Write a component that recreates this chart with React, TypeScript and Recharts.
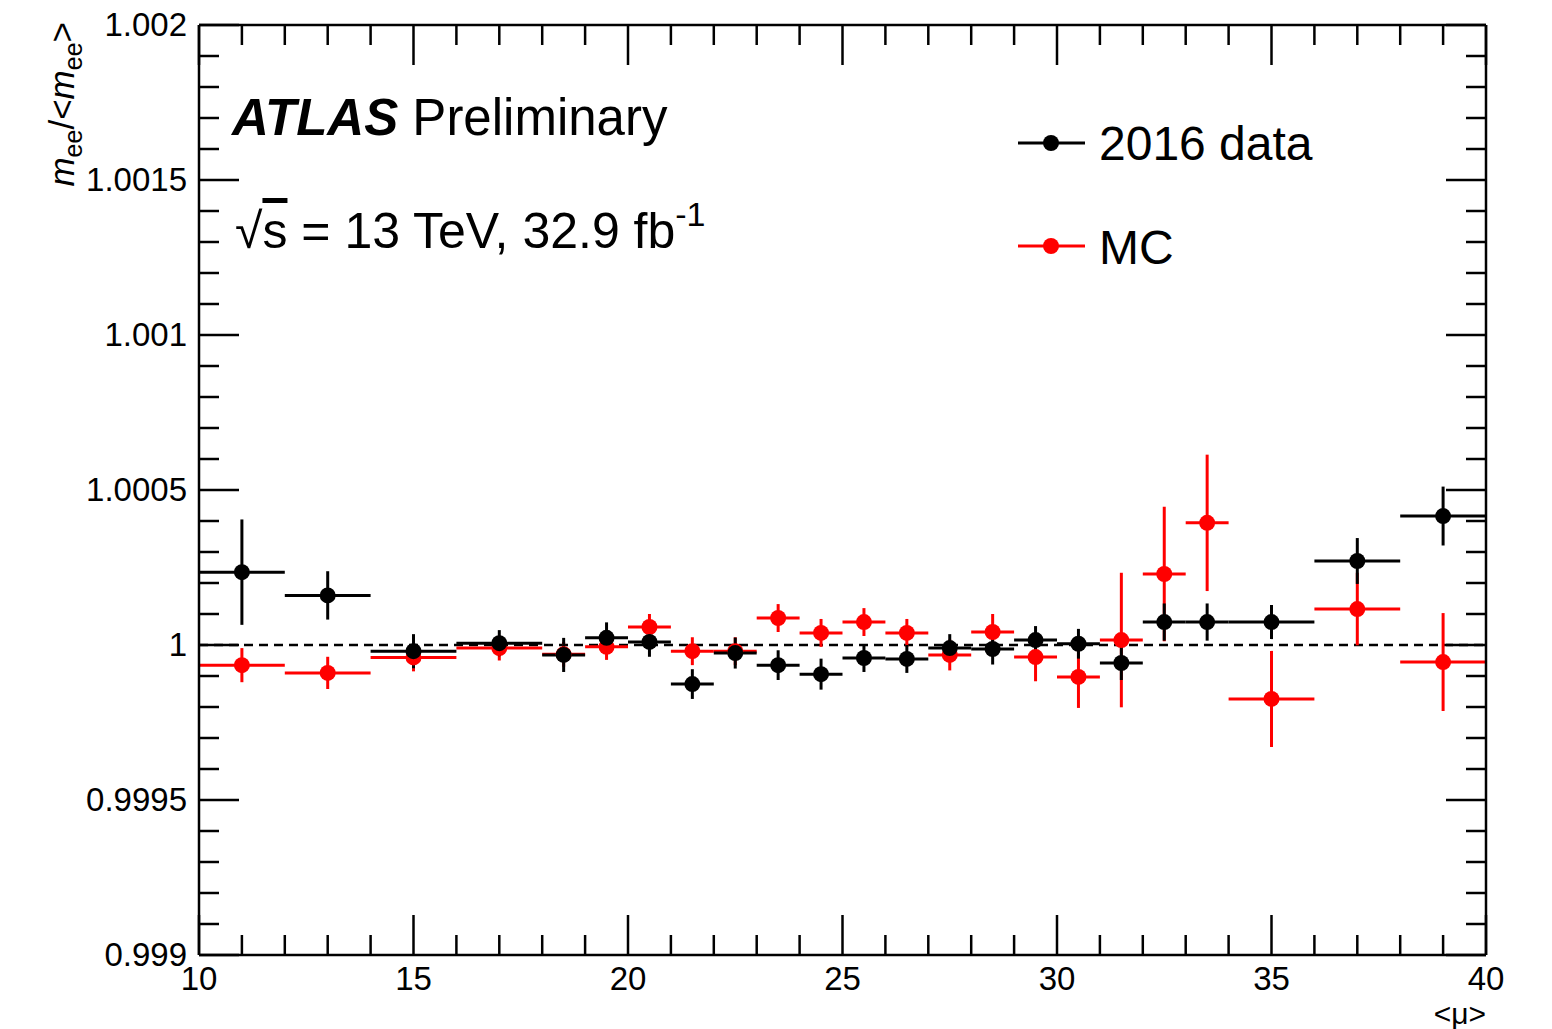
import { ScatterChart, Scatter, XAxis, YAxis, ErrorBar, ReferenceLine } from 'recharts';

// bins in <mu>
const binCenters = [11, 13, 15, 17, 18.5, 19.5, 20.5, 21.5, 22.5, 23.5, 24.5, 25.5, 26.5, 27.5, 28.5, 29.5, 30.5, 31.5, 32.5, 33.5, 35, 37, 39];
const binHalfWidths = [1, 1, 1, 1, 0.5, 0.5, 0.5, 0.5, 0.5, 0.5, 0.5, 0.5, 0.5, 0.5, 0.5, 0.5, 0.5, 0.5, 0.5, 0.5, 1, 1, 1];

// 2016 data
const dataValues = [1.000235, 1.00016, 0.99998, 1.000006, 0.999968, 1.000023, 1.00001, 0.999874, 0.999974, 0.999935, 0.999906, 0.999958, 0.999955, 0.99999, 0.999987, 1.000016, 1.000004, 0.999942, 1.000074, 1.000074, 1.000074, 1.000271, 1.000416];
const dataErrors = [0.00017, 0.000078, 0.000055, 0.000042, 0.000055, 0.00005, 0.000048, 0.000048, 0.00005, 0.000048, 0.00005, 0.000045, 0.000045, 0.000045, 0.00005, 0.000045, 0.000048, 0.000055, 0.00006, 0.00006, 0.000055, 0.000074, 0.000095];

// MC
const mcValues = [0.999935, 0.99991, 0.99996, 0.99999, 0.99997, 0.999994, 1.000058, 0.99998, 0.99998, 1.000087, 1.000039, 1.000074, 1.000039, 0.999968, 1.000042, 0.999961, 0.999897, 1.000016, 1.000229, 1.000394, 0.999826, 1.000116, 0.999945];
const mcErrors = [0.000055, 0.000052, 0.000045, 0.00004, 0.00004, 0.000042, 0.000042, 0.000045, 0.000045, 0.000045, 0.000045, 0.000045, 0.000045, 0.00005, 0.000058, 0.000078, 0.0001, 0.000217, 0.000217, 0.00022, 0.000155, 0.000117, 0.000158];

const yMajorTicks = [0.999, 0.9995, 1, 1.0005, 1.001, 1.0015, 1.002];
const yMajorLabels = ['0.999', '0.9995', '1', '1.0005', '1.001', '1.0015', '1.002'];
const xMajorTicks = [10, 15, 20, 25, 30, 35, 40];
const xMajorLabels = ['10', '15', '20', '25', '30', '35', '40'];

const xTicks = Array.from({ length: 31 }, (_, i) => 10 + i);
const yTicks = Array.from({ length: 31 }, (_, i) => Number((0.999 + i * 0.0001).toFixed(4)));

const dataPoints = binCenters.map((x, i) => ({ x, y: dataValues[i], ex: binHalfWidths[i], ey: dataErrors[i] }));
const mcPoints = binCenters.map((x, i) => ({ x, y: mcValues[i], ex: binHalfWidths[i], ey: mcErrors[i] }));

const FONT = '"Liberation Sans", Arial, Helvetica, sans-serif';
const MAJOR = 40;
const MINOR = 20;
const LW = 2.5;

const yLabel = (v: number) => {
  const k = yMajorTicks.findIndex((t) => Math.abs(t - v) < 1e-7);
  return k >= 0 ? yMajorLabels[k] : null;
};
const xLabel = (v: number) => {
  const k = xMajorTicks.findIndex((t) => Math.abs(t - v) < 1e-7);
  return k >= 0 ? xMajorLabels[k] : null;
};

function BottomTick({ x, y, payload }: any) {
  const lab = xLabel(payload.value);
  return (
    <g>
      <line x1={x} x2={x} y1={y} y2={y - (lab ? MAJOR : MINOR)} stroke="#000" strokeWidth={LW} />
      {lab && (
        <text x={x} y={y + 35} textAnchor="middle" fontFamily={FONT} fontSize={33} fill="#000">{lab}</text>
      )}
    </g>
  );
}

function TopTick({ x, y, payload }: any) {
  const lab = xLabel(payload.value);
  return <line x1={x} x2={x} y1={y} y2={y + (lab ? MAJOR : MINOR)} stroke="#000" strokeWidth={LW} />;
}

function LeftTick({ x, y, payload }: any) {
  const lab = yLabel(payload.value);
  return (
    <g>
      <line x1={x} x2={x + (lab ? MAJOR : MINOR)} y1={y} y2={y} stroke="#000" strokeWidth={LW} />
      {lab && (
        <text x={x - 12} y={y + 11} textAnchor="end" fontFamily={FONT} fontSize={33} fill="#000">{lab}</text>
      )}
    </g>
  );
}

function RightTick({ x, y, payload }: any) {
  const lab = yLabel(payload.value);
  return <line x1={x} x2={x - (lab ? MAJOR : MINOR)} y1={y} y2={y} stroke="#000" strokeWidth={LW} />;
}

const dot = (color: string) => (props: any) => <circle cx={props.cx} cy={props.cy} r={8} fill={color} />;
const noDot = () => <g />;

export default function App() {
  const W = 1540;
  const H = 1015;
  return (
    <div style={{ position: 'relative', width: W, height: 1021, background: '#fff' }}>
      <ScatterChart width={W} height={H} margin={{ top: 16, right: 61, bottom: 8, left: 0 }}>
        <XAxis xAxisId="b" dataKey="x" type="number" domain={[10, 40]} allowDataOverflow ticks={xTicks} interval={0}
          orientation="bottom" height={60} tickSize={0} tickMargin={0} tickLine={false}
          axisLine={{ stroke: '#000', strokeWidth: LW }} tick={<BottomTick />} />
        <XAxis xAxisId="t" dataKey="x" type="number" domain={[10, 40]} allowDataOverflow ticks={xTicks} interval={0}
          orientation="top" height={1} tickSize={0} tickMargin={0} tickLine={false}
          axisLine={{ stroke: '#000', strokeWidth: LW }} tick={<TopTick />} />
        <YAxis yAxisId="l" dataKey="y" type="number" domain={[0.999, 1.002]} allowDataOverflow ticks={yTicks} interval={0}
          orientation="left" width={191} tickSize={0} tickMargin={0} tickLine={false}
          axisLine={{ stroke: '#000', strokeWidth: LW }} tick={<LeftTick />} />
        <YAxis yAxisId="r" dataKey="y" type="number" domain={[0.999, 1.002]} allowDataOverflow ticks={yTicks} interval={0}
          orientation="right" width={1} tickSize={0} tickMargin={0} tickLine={false}
          axisLine={{ stroke: '#000', strokeWidth: LW }} tick={<RightTick />} />
        <ReferenceLine xAxisId="b" yAxisId="l" y={1} stroke="#000" strokeWidth={2.5} strokeDasharray="9 6" />
        {/* invisible series so the mirrored top/right axes get their ticks */}
        <Scatter data={dataPoints} xAxisId="t" yAxisId="r" shape={noDot} legendType="none" isAnimationActive={false} />
        <Scatter name="MC" data={mcPoints} xAxisId="b" yAxisId="l" fill="#ff0000" shape={dot('#ff0000')} isAnimationActive={false}>
          <ErrorBar dataKey="ex" direction="x" width={0} stroke="#ff0000" strokeWidth={3} isAnimationActive={false} />
          <ErrorBar dataKey="ey" direction="y" width={0} stroke="#ff0000" strokeWidth={3} isAnimationActive={false} />
        </Scatter>
        <Scatter name="2016 data" data={dataPoints} xAxisId="b" yAxisId="l" fill="#000" shape={dot('#000')} isAnimationActive={false}>
          <ErrorBar dataKey="ex" direction="x" width={0} stroke="#000" strokeWidth={3} isAnimationActive={false} />
          <ErrorBar dataKey="ey" direction="y" width={0} stroke="#000" strokeWidth={3} isAnimationActive={false} />
        </Scatter>
      </ScatterChart>

      <svg width={W} height={1021} style={{ position: 'absolute', left: 0, top: 0, pointerEvents: 'none' }} fontFamily={FONT}>
        {/* ATLAS label */}
        <text x={224} y={127} fontSize={51} fill="#000">
          <tspan fontWeight="bold" fontStyle="italic">ATLAS</tspan>
          <tspan> Preliminary</tspan>
        </text>
        <text x={227} y={240} fontSize={50} fill="#000">
          <tspan>√</tspan>
          <tspan textDecoration="overline">s</tspan>
          <tspan> = 13 TeV, 32.9 fb</tspan>
          <tspan fontSize={34} dy={-22}>-1</tspan>
        </text>

        {/* legend */}
        <line x1={1010} x2={1077} y1={135} y2={135} stroke="#000" strokeWidth={3} />
        <circle cx={1043} cy={135} r={8} fill="#000" />
        <text x={1091} y={152} fontSize={48} fill="#000">2016 data</text>
        <line x1={1010} x2={1077} y1={238} y2={238} stroke="#ff0000" strokeWidth={3} />
        <circle cx={1043} cy={238} r={8} fill="#ff0000" />
        <text x={1091} y={256} fontSize={48} fill="#000">MC</text>

        {/* axis titles */}
        <text x={1478} y={1016} textAnchor="end" fontSize={30} fill="#000">&lt;μ&gt;</text>
        <text transform="translate(66,14) rotate(-90)" textAnchor="end" fontSize={35} fill="#000">
          <tspan fontStyle="italic">m</tspan>
          <tspan fontSize={25} dy={8}>ee</tspan>
          <tspan dy={-8}>/&lt;</tspan>
          <tspan fontStyle="italic">m</tspan>
          <tspan fontSize={25} dy={8}>ee</tspan>
          <tspan dy={-8}>&gt;</tspan>
        </text>
      </svg>
    </div>
  );
}
